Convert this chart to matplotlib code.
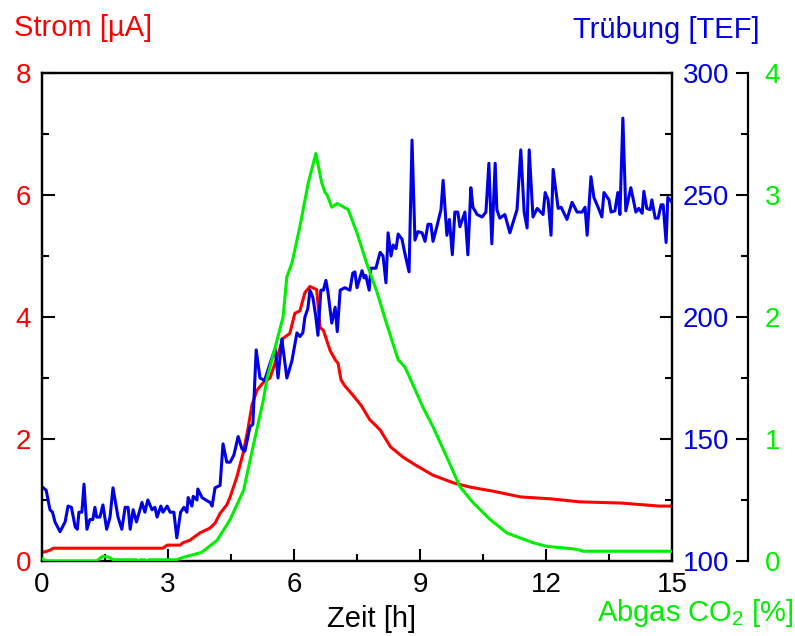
import matplotlib
matplotlib.use('Agg')
import matplotlib.pyplot as plt
from matplotlib.ticker import MultipleLocator

plt.rcParams['font.family'] = ['Liberation Sans', 'DejaVu Sans']
plt.rcParams['mathtext.default'] = 'regular'
plt.rcParams['font.size'] = 20

## Strom (red, left axis)
t_strom = [0.0, 0.07, 0.2, 0.27, 2.88, 2.98, 3.29, 3.36, 3.52, 3.76, 4.0, 4.12,
           4.24, 4.4, 4.48, 4.64, 4.79, 4.9, 5.0, 5.12, 5.26, 5.43, 5.6, 5.74,
           5.9, 6.02, 6.14, 6.26, 6.38, 6.54, 6.62, 6.7, 6.86, 6.98, 7.05, 7.12,
           7.2, 7.4, 7.6, 7.8, 8.05, 8.3, 8.6, 8.9, 9.3, 9.8, 10.2, 10.7, 11.4,
           12.1, 12.8, 13.8, 14.7, 15.0]
strom = [0.15, 0.15, 0.18, 0.21, 0.21, 0.26, 0.26, 0.3, 0.34, 0.46, 0.54, 0.62,
         0.78, 0.92, 1.05, 1.38, 1.77, 2.15, 2.56, 2.8, 2.92, 3.0, 3.35, 3.65,
         3.73, 4.06, 4.1, 4.4, 4.5, 4.45, 3.83, 3.78, 3.45, 3.3, 3.24, 2.97,
         2.88, 2.72, 2.55, 2.32, 2.15, 1.87, 1.7, 1.57, 1.41, 1.28, 1.21, 1.15,
         1.05, 1.02, 0.97, 0.95, 0.9, 0.9]

## Truebung (blue, first right axis)
t_trueb = [0.03, 0.1, 0.19, 0.25, 0.31, 0.43, 0.55, 0.62, 0.7, 0.79, 0.84, 0.88,
           0.95, 1.0, 1.07, 1.14, 1.21, 1.26, 1.3, 1.38, 1.45, 1.54, 1.62, 1.69,
           1.81, 1.9, 1.98, 2.05, 2.1, 2.17, 2.25, 2.38, 2.45, 2.52, 2.62, 2.69,
           2.74, 2.83, 2.88, 2.98, 3.05, 3.14, 3.21, 3.3, 3.38, 3.45, 3.48, 3.57,
           3.6, 3.69, 3.71, 3.81, 3.9, 4.0, 4.05, 4.12, 4.24, 4.31, 4.4, 4.48,
           4.57, 4.67, 4.76, 4.83, 4.88, 4.95, 5.02, 5.1, 5.19, 5.3, 5.43, 5.55,
           5.62, 5.71, 5.83, 5.95, 6.07, 6.14, 6.21, 6.26, 6.33, 6.38, 6.45, 6.52,
           6.57, 6.64, 6.7, 6.76, 6.81, 6.9, 6.98, 7.03, 7.1, 7.21, 7.33, 7.4,
           7.45, 7.5, 7.62, 7.67, 7.71, 7.79, 7.83, 7.95, 8.05, 8.12, 8.19, 8.24,
           8.31, 8.36, 8.43, 8.48, 8.52, 8.57, 8.64, 8.74, 8.81, 8.88, 8.95, 9.05,
           9.12, 9.19, 9.26, 9.31, 9.4, 9.5, 9.55, 9.64, 9.7, 9.77, 9.83, 9.9,
           9.95, 10.07, 10.14, 10.21, 10.26, 10.36, 10.48, 10.57, 10.64, 10.71,
           10.79, 10.83, 10.9, 11.02, 11.14, 11.31, 11.4, 11.48, 11.55, 11.6,
           11.69, 11.79, 11.93, 11.98, 12.05, 12.12, 12.17, 12.29, 12.36, 12.5,
           12.62, 12.74, 12.86, 12.93, 12.98, 13.07, 13.14, 13.24, 13.33, 13.38,
           13.5, 13.55, 13.64, 13.71, 13.76, 13.83, 13.9, 14.02, 14.14, 14.21,
           14.29, 14.33, 14.4, 14.48, 14.52, 14.6, 14.67, 14.74, 14.79, 14.86,
           14.9, 15.0]
trueb = [130, 129, 121, 120, 116, 112, 116, 122.5, 122, 114, 113, 120,
         120, 131.5, 113, 117, 117, 122, 118, 118, 123, 113, 118, 130,
         118, 113, 122, 122, 113, 121, 116, 124, 120, 125, 121, 122,
         118, 122.5, 120, 122.5, 120, 120, 109.5, 120, 122, 120, 126, 122.5,
         126.5, 125, 129.5, 126, 125, 124, 122.5, 130, 131, 148, 140.5, 140.5,
         143.5, 151, 146, 145, 149, 155, 156, 186.5, 175, 174, 181, 187,
         175, 191, 175, 182, 193.5, 192, 193.5, 200, 203.5, 211, 208, 200,
         192.5, 211, 211, 215, 210, 197.5, 204, 194, 211, 212, 211, 218,
         218.5, 212, 219, 216, 217, 211, 220, 220, 226.5, 225, 214, 234.5,
         225, 229.5, 228, 234, 233, 232, 226, 218.5, 272.5, 231.5, 235, 234.5,
         231, 238, 238, 231, 237, 244, 256, 233.5, 240, 225.5, 243, 243,
         237, 243, 225.5, 253, 245, 242, 241, 243, 263, 230,
         263, 244, 240.5, 242, 234.5, 244, 268.5, 243, 236.5, 268.5,
         241, 244.5, 242, 251, 248, 233.5, 260.5, 244.5, 245, 240,
         247, 243, 243, 245, 233.5, 257.5, 249, 245, 241, 251,
         248, 243, 243.5, 251, 242, 281.5, 243.5, 253, 243, 244.5,
         242.5, 251.5, 244.5, 244, 248, 240.5, 240.5, 246, 246, 230.5,
         249, 247]

## Abgas CO2 (green, second right axis)
t_co2 = [0.0, 0.1, 1.3, 1.45, 1.6, 1.7, 2.25, 2.3, 2.35, 2.45, 2.5, 2.55, 3.2,
         3.36, 3.8, 4.17, 4.48, 4.8, 5.02, 5.27, 5.36, 5.74, 5.83, 5.95, 6.14,
         6.34, 6.52, 6.66, 6.74, 6.79, 6.9, 7.03, 7.14, 7.29, 7.5, 7.73, 7.98,
         8.2, 8.48, 8.64, 8.76, 9.07, 9.31, 9.64, 9.95, 10.26, 10.67, 11.07,
         11.38, 11.69, 12.02, 12.64, 12.8, 12.88, 15.0]
co2 = [0.02, 0.0, 0.0, 0.04, 0.03, 0.01, 0.01, 0.0, 0.01, 0.01, 0.0, 0.01, 0.01,
       0.03, 0.07, 0.17, 0.34, 0.58, 0.93, 1.32, 1.5, 2.0, 2.33, 2.44, 2.74,
       3.1, 3.34, 3.1, 3.02, 3.0, 2.9, 2.93, 2.91, 2.88, 2.69, 2.44, 2.2,
       1.95, 1.65, 1.59, 1.5, 1.26, 1.1, 0.85, 0.61, 0.48, 0.34, 0.23,
       0.19, 0.15, 0.12, 0.1, 0.09, 0.08, 0.08]

RED = '#ff0000'
BLUE = '#0000e6'
GREEN = '#00ee00'
LW = 2.2

def main():
  fig = plt.figure(figsize=(7.95, 6.36), dpi=100)
  ax = fig.add_axes([42/795, 1 - 561/636, 630/795, 488/636])
  ax2 = ax.twinx()
  ax3 = ax.twinx()

  ## Draw order: red at bottom, then blue, green on top.
  ax.set_zorder(1)
  ax2.set_zorder(2)
  ax3.set_zorder(3)
  ax2.patch.set_visible(False)
  ax3.patch.set_visible(False)

  ax.plot(t_strom, strom, color=RED, lw=LW)
  ax2.plot(t_trueb, trueb, color=BLUE, lw=LW)
  ax3.plot(t_co2, co2, color=GREEN, lw=LW)

  ax.set_xlim(0, 15)
  ax.set_ylim(0, 8)
  ax2.set_ylim(100, 300)
  ax3.set_ylim(0, 4)

  for a in (ax, ax2, ax3):
    for s in a.spines.values():
      s.set_linewidth(1.6)

  ## x axis (only tiny marks on the top spine)
  ax.xaxis.set_major_locator(MultipleLocator(3))
  ax.xaxis.set_minor_locator(MultipleLocator(1.5))
  ax.tick_params(axis='x', which='major', direction='in', length=9, width=1.5,
                 pad=8, top=False)
  ax.tick_params(axis='x', which='minor', direction='in', length=5, width=1.5,
                 top=False)
  ax2.xaxis.set_minor_locator(MultipleLocator(1.5))
  ax2.tick_params(axis='x', which='both', direction='in', length=2, width=1.2,
                  top=True, bottom=False, labeltop=False, labelbottom=False)

  ## left red axis
  ax.yaxis.set_major_locator(MultipleLocator(2))
  ax.yaxis.set_minor_locator(MultipleLocator(1))
  ax.tick_params(axis='y', which='major', direction='in', length=9, width=1.5,
                 labelcolor=RED, pad=8, right=False)
  ax.tick_params(axis='y', which='minor', direction='in', length=5, width=1.5,
                 right=False)

  ## blue axis on the plot's right spine
  ax2.yaxis.set_major_locator(MultipleLocator(50))
  ax2.yaxis.set_minor_locator(MultipleLocator(25))
  ax2.tick_params(axis='y', which='major', direction='in', length=9, width=1.5,
                  labelcolor=BLUE, pad=8)
  ax2.tick_params(axis='y', which='minor', direction='in', length=5, width=1.5)

  ## green axis on a detached spine
  ax3.spines['right'].set_position(('axes', 1.1206))
  for side in ('left', 'top', 'bottom'):
    ax3.spines[side].set_visible(False)
  ax3.yaxis.set_major_locator(MultipleLocator(1))
  ax3.yaxis.set_minor_locator(MultipleLocator(0.5))
  ax3.tick_params(axis='y', which='major', direction='in', length=9, width=1.5,
                  labelcolor=GREEN, pad=12)
  ax3.tick_params(axis='y', which='minor', direction='in', length=5, width=1.5)

  ## Axis titles.
  fig.text(14/795, 1 - 28/636, 'Strom [µA]', color=RED, ha='left',
           va='center', fontsize=21)
  fig.text(760/795, 1 - 30/636, 'Trübung [TEF]', color=BLUE, ha='right',
           va='center', fontsize=21)
  fig.text(372/795, 1 - 619/636, 'Zeit [h]', color='black', ha='center',
           va='center', fontsize=21)
  fig.text(794/795, 1 - 613/636, 'Abgas CO$_2$ [%]', color=GREEN, ha='right',
           va='center', fontsize=21)

  fig.savefig('out.png', dpi=100)

if __name__ == '__main__':
  main()
